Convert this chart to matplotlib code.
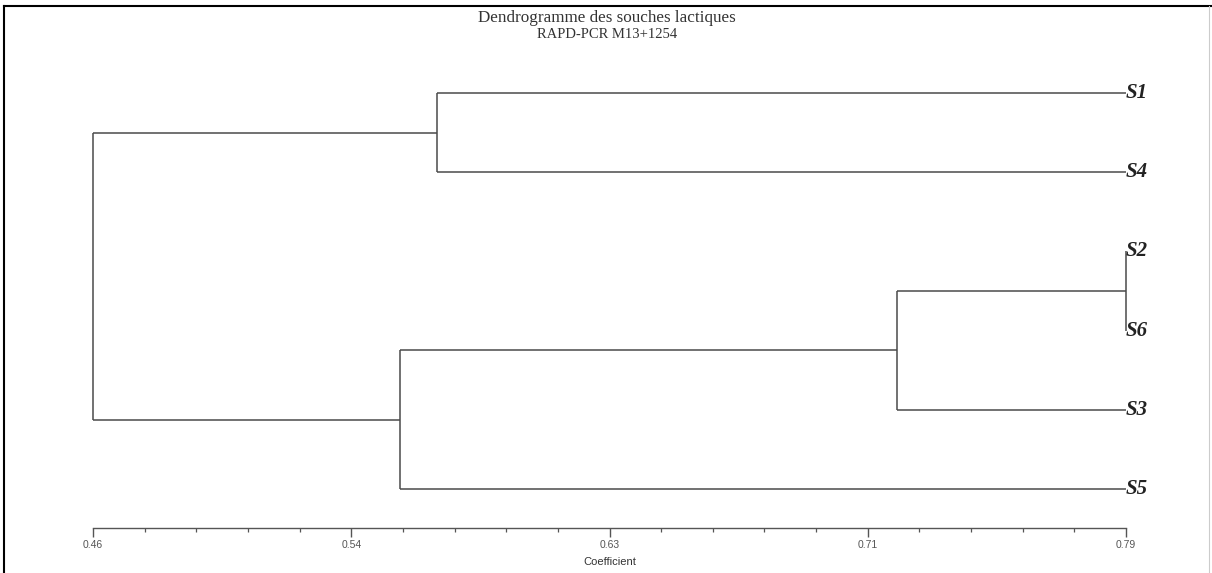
import matplotlib
matplotlib.use('Agg')
import matplotlib.pyplot as plt
import numpy as np
from matplotlib.lines import Line2D
from matplotlib.ticker import FixedLocator

# leaf order top -> bottom
leaf_labels = ['S1', 'S4', 'S2', 'S6', 'S3', 'S5']
# merges like a linkage: indices 0..5 are leaves, 6.. are new clusters
merge_pairs = [(2, 3), (6, 4), (0, 1), (7, 5), (8, 9)]
merge_levels = [0.79, 0.717, 0.570, 0.558, 0.46]

axis_min, axis_max = 0.46, 0.79
major_ticks = [0.46, 0.5425, 0.625, 0.7075, 0.79]
major_labels = ['0.46', '0.54', '0.63', '0.71', '0.79']

title = 'Dendrogramme des souches lactiques'
subtitle = 'RAPD-PCR M13+1254'
xlabel = 'Coefficient'

W, H = 1212, 573
fig = plt.figure(figsize=(W / 100, H / 100), dpi=100)
fig.patch.set_facecolor('white')

# axes spans leaf rows: S1 at y=93 px, S5 at y=489 px
ax = fig.add_axes([93 / W, 1 - 489 / H, 1033 / W, (489 - 93) / H])
ax.set_xlim(axis_min, axis_max)
ax.set_ylim(len(leaf_labels) - 1, 0)

line_col = '#4a4a4a'
lw = 1.1

# positions of every node
xpos = {i: axis_max for i in range(len(leaf_labels))}
ypos = {i: float(i) for i in range(len(leaf_labels))}

for k, ((a, b), lev) in enumerate(zip(merge_pairs, merge_levels)):
    node = len(leaf_labels) + k
    for c in (a, b):
        ax.plot([xpos[c], lev], [ypos[c], ypos[c]], color=line_col, lw=lw,
                solid_capstyle='butt', clip_on=False)
    ax.plot([lev, lev], [ypos[a], ypos[b]], color=line_col, lw=lw,
            solid_capstyle='butt', clip_on=False)
    xpos[node] = lev
    ypos[node] = (ypos[a] + ypos[b]) / 2

for i, lab in enumerate(leaf_labels):
    ax.text(axis_max, i, lab, ha='left', va='center', fontsize=15,
            family='Liberation Serif', fontweight='bold', fontstyle='italic',
            color='#222222', clip_on=False)

# coefficient scale under the tree
for s in ('top', 'left', 'right'):
    ax.spines[s].set_visible(False)
ax.spines['bottom'].set_position(('outward', 28))
ax.spines['bottom'].set_color('#555555')
ax.spines['bottom'].set_linewidth(1.0)
ax.set_yticks([])
ax.xaxis.set_major_locator(FixedLocator(major_ticks))
minor = [t for t in np.linspace(axis_min, axis_max, 21)
         if min(abs(t - m) for m in major_ticks) > 1e-6]
ax.xaxis.set_minor_locator(FixedLocator(minor))
ax.set_xticklabels(major_labels)
ax.tick_params(axis='x', which='major', direction='out', length=6.5, width=1.0,
               color='#555555', labelsize=7.5, labelcolor='#555555', pad=2)
ax.tick_params(axis='x', which='minor', direction='out', length=3, width=0.9,
               color='#555555')
for t in ax.get_xticklabels():
    t.set_family('Liberation Sans')
ax.set_xlabel(xlabel, fontsize=8, family='Liberation Sans', color='#333333',
              labelpad=5)

fig.text(607 / W, 1 - 18 / H, title, ha='center', va='center',
         fontsize=12.3, family='Liberation Serif', color='#333333')
fig.text(607 / W, 1 - 35 / H, subtitle, ha='center', va='center',
         fontsize=10.5, family='Liberation Serif', color='#333333')

# outer frame (left, top, right)
fig.add_artist(Line2D([4 / W, 4 / W], [0, 1 - 6 / H], transform=fig.transFigure,
                      color='black', lw=1.5))
fig.add_artist(Line2D([4 / W, 1], [1 - 6 / H, 1 - 6 / H], transform=fig.transFigure,
                      color='black', lw=1.5))
fig.add_artist(Line2D([1209 / W, 1209 / W], [0, 1 - 6 / H], transform=fig.transFigure,
                      color='#cccccc', lw=0.8))

fig.savefig('out.png', dpi=100)
